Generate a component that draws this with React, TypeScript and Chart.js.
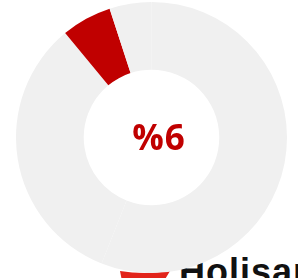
import React, { useEffect, useRef } from "react";
import { Chart, registerables } from "chart.js";

Chart.register(...registerables);

const segmentLabels = ["Kalan A", "Kalan B", "Oran", "Kalan C"];
const segmentValues = [56, 33, 6, 5];
const segmentColors = ["#f0f0f0", "#f0f0f0", "#c00000", "#f0f0f0"];
const centerLabel = "%6";
const logoText = "Holisan";

export default function App() {
  const canvasRef = useRef<HTMLCanvasElement | null>(null);

  useEffect(() => {
    const ctx = canvasRef.current;
    if (!ctx) return;
    const chart = new Chart(ctx, {
      type: "doughnut",
      data: {
        labels: segmentLabels,
        datasets: [
          {
            data: segmentValues,
            backgroundColor: segmentColors,
            borderWidth: 0,
            hoverOffset: 0,
          },
        ],
      },
      options: {
        responsive: false,
        animation: false,
        devicePixelRatio: 1,
        cutout: "50%",
        layout: { padding: 0 },
        plugins: {
          legend: { display: false },
          tooltip: { enabled: false },
        },
      },
    });
    return () => chart.destroy();
  }, []);

  return (
    <div
      style={{
        position: "fixed",
        left: 0,
        top: 0,
        width: 298,
        height: 278,
        overflow: "hidden",
        background: "#ffffff",
      }}
    >
      <svg
        width={60}
        height={12}
        style={{ position: "absolute", left: 116, top: 269 }}
      >
        <path d="M4 2 Q28 6 54 2 L48 12 L6 12 Z" fill="#e2231a" />
      </svg>
      <div
        style={{
          position: "absolute",
          left: 179,
          top: 254,
          fontFamily: "'Liberation Sans', Arial, sans-serif",
          fontWeight: 700,
          fontSize: 36,
          letterSpacing: 1,
          lineHeight: "36px",
          color: "#111111",
          whiteSpace: "nowrap",
        }}
      >
        {logoText}
      </div>
      <canvas
        ref={canvasRef}
        width={271}
        height={271}
        style={{ position: "absolute", left: 16, top: 2, width: 271, height: 271 }}
      />
      <div
        style={{
          position: "absolute",
          left: 99,
          width: 120,
          top: 116,
          textAlign: "center",
          fontFamily: "'Open Sans', sans-serif",
          fontWeight: 700,
          fontSize: 35,
          letterSpacing: 1,
          lineHeight: "42px",
          color: "#c00000",
        }}
      >
        {centerLabel}
      </div>
    </div>
  );
}
